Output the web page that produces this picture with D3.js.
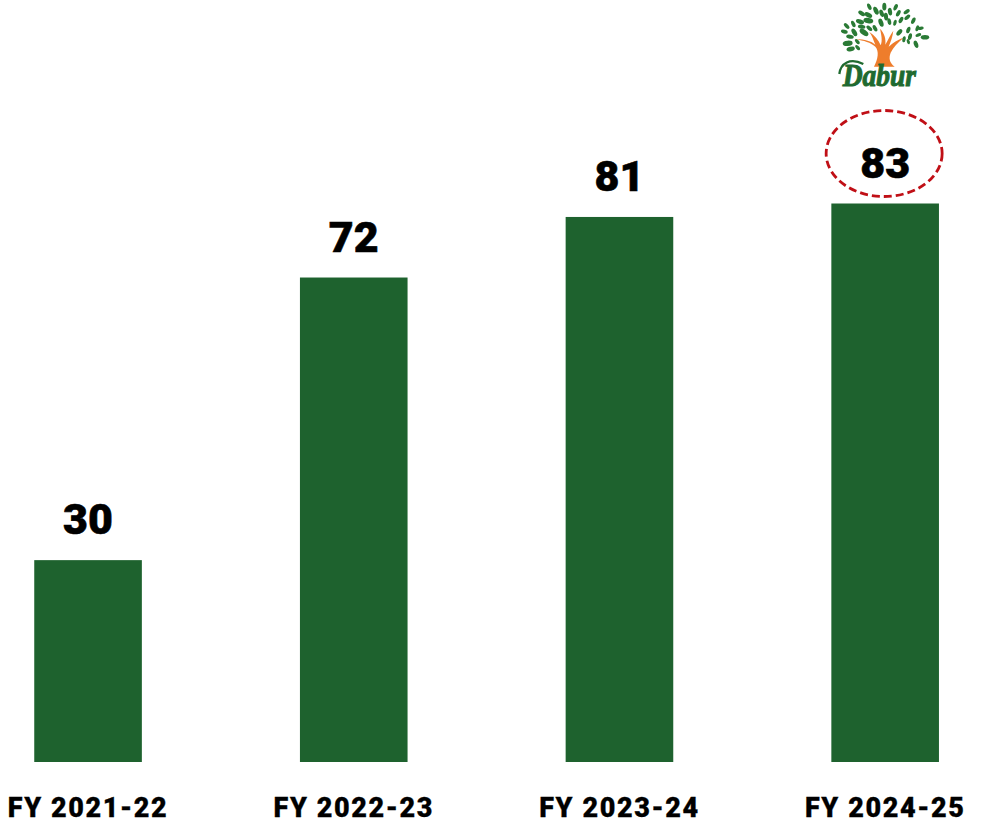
<!DOCTYPE html>
<html><head><meta charset="utf-8">
<script src="https://cdn.jsdelivr.net/npm/d3@7"></script>
<style>html,body{margin:0;padding:0;background:#fff}svg{display:block}</style>
</head><body><svg id="c" width="999" height="830"></svg>
<script>
const categories = ["FY 2021-22","FY 2022-23","FY 2023-24","FY 2024-25"];
const values = [30,72,81,83];
const highlighted = "FY 2024-25";
const barColor = "#1e622e";
const ringColor = "#c00f16";
const logoGreen = "#2a7a35";
const logoOrange = "#ee7d2c";
// logo leaves in logo pixel space: x, y, angle, length
const leaves = [[208,20,65,9],[253,20,90,10],[287,22,-65,9],[228,32,65,11],[270,35,80,10],[185,40,35,10],[205,45,30,11],[245,40,70,10],[258,50,85,10],[295,40,-60,9],[320,35,-35,9],[180,65,20,11],[205,62,10,13],[243,68,70,11],[268,65,80,9],[285,68,-75,8],[303,60,-60,9],[322,52,-40,9],[340,62,-65,9],[140,78,45,9],[160,72,65,9],[185,80,10,10],[208,85,40,9],[225,85,60,9],[133,95,15,9],[163,97,60,11],[192,97,35,13],[150,110,10,10],[298,97,-50,10],[325,90,-70,9],[352,85,-70,8],[362,85,-10,8],[312,118,-80,8],[330,110,-75,9],[355,105,-20,8],[375,112,0,11],[143,130,-5,13],[172,125,50,8],[152,147,-15,11],[173,143,50,8],[348,133,70,10],[325,125,70,7]];

const W = 999, H = 830, base = 762;
const svg = d3.select("#c").attr("viewBox",[0,0,W,H]);
const x = d3.scaleBand().domain(categories).range([-44.8,1018]).paddingInner(0.595).paddingOuter(0.2975);
const y = d3.scaleLinear().domain([0,83]).range([base,203.5]);
const font = "Roboto, 'Open Sans', sans-serif";

svg.append("g").selectAll("rect").data(values).join("rect")
  .attr("x",(d,i)=>x(categories[i])).attr("width",x.bandwidth())
  .attr("y",d=>y(d)).attr("height",d=>base-y(d)).attr("fill",barColor);

svg.append("g").selectAll("text").data(values).join("text")
  .attr("x",(d,i)=>x(categories[i])+x.bandwidth()/2)
  .attr("y",d=>y(d)-26)
  .attr("text-anchor","middle")
  .style("font",`900 43px ${font}`).attr("fill","#000").attr("stroke","#000").attr("stroke-width",0.6)
  .text(d=>d);

const xAxis = d3.axisBottom(x).tickSize(0).tickPadding(0);
const ax = svg.append("g").attr("transform",`translate(0,${base})`).call(xAxis);
ax.select(".domain").remove();
ax.selectAll("text").attr("y",0).attr("dy",0).attr("transform","translate(0,55)")
  .attr("fill","#000").attr("stroke","#000").attr("stroke-width",0.3).style("font",`900 27px ${font}`).style("letter-spacing","1.6px");

// highlight ring
const cx = x(highlighted)+x.bandwidth()/2;
svg.append("ellipse").attr("cx",cx-1).attr("cy",y(83)-50).attr("rx",58).attr("ry",43)
  .attr("fill","none").attr("stroke",ringColor).attr("stroke-width",2.8).attr("stroke-dasharray","8 4");

// logo
const logo = svg.append("g").attr("transform","translate(800,0) scale(0.3333)");
logo.append("path").attr("fill",logoOrange)
  .attr("d","M222,200 C234,176 238,154 226,140 C212,128 192,122 166,118 C196,118 214,124 226,134 C220,120 216,106 208,96 C224,106 236,120 242,136 C248,122 244,104 240,86 C254,100 258,118 256,134 C264,120 270,106 280,92 C278,110 272,126 266,140 C278,130 294,118 310,114 C294,128 280,142 272,158 C266,174 268,188 284,200 Z");
logo.append("g").attr("fill",logoGreen).selectAll("ellipse").data(leaves).join("ellipse")
  .attr("rx",d=>d[3]*1.15).attr("ry",d=>d[3]*0.62)
  .attr("transform",d=>`translate(${d[0]},${d[1]}) rotate(${d[2]})`);
logo.append("text").attr("x",238).attr("y",258).attr("text-anchor","middle")
  .attr("fill","#1f6a30").attr("stroke","#1f6a30").attr("stroke-width",3).style("font","italic 700 92px 'Liberation Serif', serif").attr("textLength",220).attr("lengthAdjust","spacingAndGlyphs").text("Dabur");
logo.append("path").attr("fill","none").attr("stroke","#1f6a30").attr("stroke-width",7)
  .attr("d","M118,222 C122,190 150,172 190,192");
</script></body></html>
